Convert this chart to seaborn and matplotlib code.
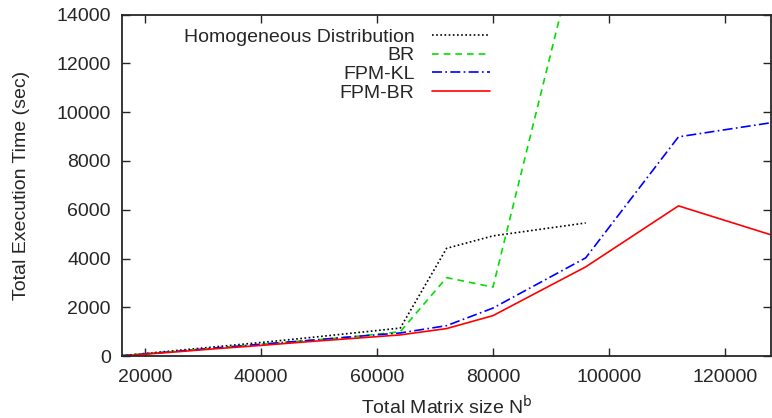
import matplotlib
matplotlib.use("Agg")
import matplotlib.pyplot as plt
import seaborn as sns
import pandas as pd

# matrix sizes (x axis)
sizes = [16000, 24000, 32000, 40000, 48000, 56000, 64000, 72000, 80000, 96000, 112000, 128000]

# execution times in seconds
homogeneous = [20, 200, 380, 560, 750, 950, 1150, 4420, 4930, 5460, None, None]
br = [20, 170, 330, 490, 640, 800, 1000, 3220, 2830, 18200, None, None]
fpm_kl = [20, 170, 330, 490, 640, 800, 950, 1250, 1970, 4030, 8990, 9570]
fpm_br = [10, 150, 300, 440, 590, 730, 870, 1130, 1660, 3660, 6160, 4970]

names = ["Homogeneous Distribution", "BR", "FPM-KL", "FPM-BR"]
colors = ["black", "#00e000", "blue", "red"]
styles = [(0, (1, 1.5)), (0, (4, 3)), (0, (6, 2, 1, 2)), "-"]

sns.set_style("ticks")
plt.rcParams["font.family"] = ["Liberation Sans", "DejaVu Sans"]

fig, ax = plt.subplots(figsize=(7.72, 4.18), dpi=100)

for name, vals, c, ls in zip(names, [homogeneous, br, fpm_kl, fpm_br], colors, styles):
    df = pd.DataFrame({"size": sizes, "time": vals}).dropna()
    sns.lineplot(data=df, x="size", y="time", ax=ax, color=c, linestyle=ls,
                 linewidth=1.2, label=name)

ax.set_xlim(16000, 128000)
ax.set_ylim(0, 14000)
ax.set_xticks([20000, 40000, 60000, 80000, 100000, 120000])
ax.set_yticks(range(0, 14001, 2000))
ax.tick_params(direction="in", length=6, width=1, top=True, right=True, labelsize=14)
ax.tick_params(axis="y", pad=8)
ax.tick_params(axis="x", pad=9)
for s in ax.spines.values():
    s.set_visible(True)
    s.set_linewidth(1.3)

ax.set_xlabel("Total Matrix size N$^\\mathrm{b}$", fontsize=14, labelpad=7)
ax.set_ylabel("Total Execution Time (sec)", fontsize=14, labelpad=19)

ax.legend(loc="upper left", bbox_to_anchor=(0.074, 1.0), frameon=False, markerfirst=False,
          fontsize=14, handlelength=3.0, handletextpad=0.9, labelspacing=0.05, borderpad=0.2)
for t in ax.get_legend().get_texts():
    t.set_ha("right")
ax.get_legend()._legend_box.align = "right"

fig.subplots_adjust(left=0.158, right=0.999, top=0.965, bottom=0.148)
fig.savefig("out.png", dpi=100)
